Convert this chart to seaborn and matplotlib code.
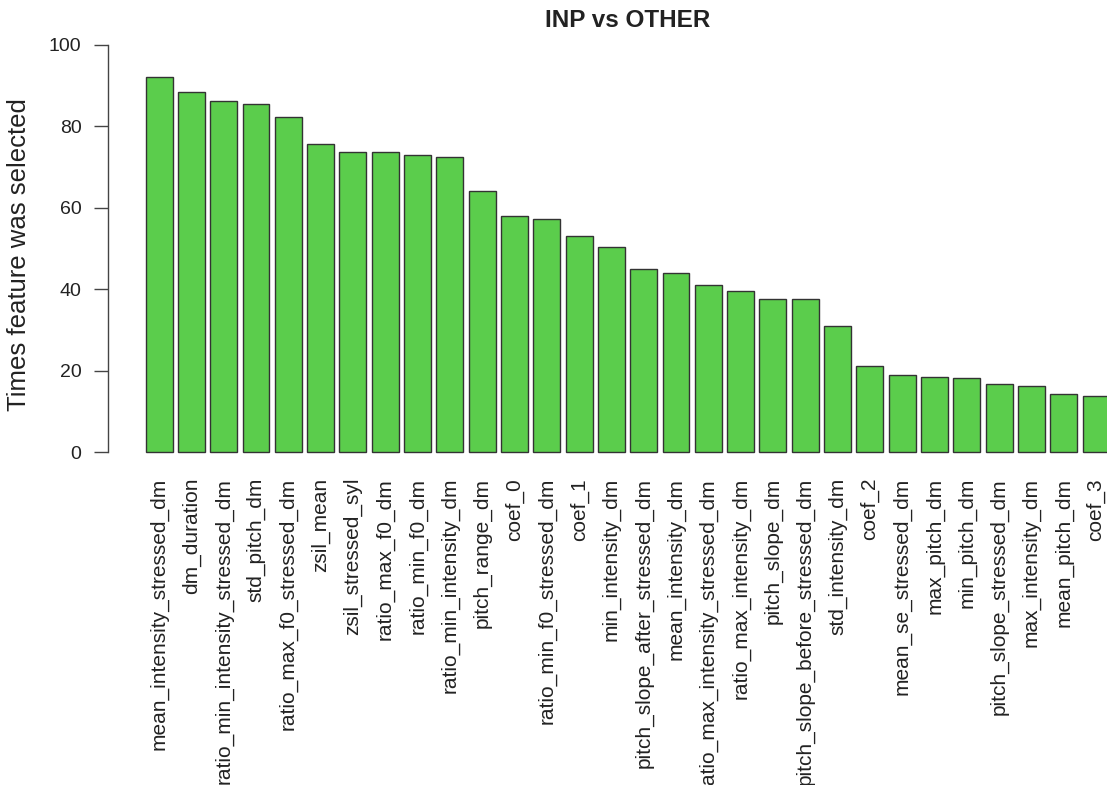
import matplotlib
matplotlib.use("Agg")
import matplotlib.pyplot as plt
import seaborn as sns
import pandas as pd

# Feature-selection counts, in descending order
features = [
    "mean_intensity_stressed_dm", "dm_duration", "ratio_min_intensity_stressed_dm",
    "std_pitch_dm", "ratio_max_f0_stressed_dm", "zsil_mean", "zsil_stressed_syl",
    "ratio_max_f0_dm", "ratio_min_f0_dm", "ratio_min_intensity_dm", "pitch_range_dm",
    "coef_0", "ratio_min_f0_stressed_dm", "coef_1", "min_intensity_dm",
    "pitch_slope_after_stressed_dm", "mean_intensity_dm",
    "ratio_max_intensity_stressed_dm", "ratio_max_intensity_dm", "pitch_slope_dm",
    "pitch_slope_before_stressed_dm", "std_intensity_dm", "coef_2",
    "mean_se_stressed_dm", "max_pitch_dm", "min_pitch_dm", "pitch_slope_stressed_dm",
    "max_intensity_dm", "mean_pitch_dm", "coef_3",
]
times_selected = [
    92.1, 88.4, 86.1, 85.4, 82.3, 75.7, 73.7, 73.6, 72.9, 72.5, 64.2,
    58.0, 57.2, 53.0, 50.4, 44.9, 44.0, 41.0, 39.5, 37.7, 37.7, 31.0,
    21.2, 19.0, 18.5, 18.1, 16.8, 16.2, 14.3, 13.8,
]
y_ticks = [0, 20, 40, 60, 80, 100]

df = pd.DataFrame({"feature": features, "times": times_selected})

sns.set_style("white")
plt.rcParams["font.family"] = ["Liberation Sans", "DejaVu Sans"]

W, H = 1107, 785
fig = plt.figure(figsize=(W / 100, H / 100), dpi=100)
# plot region: left edge at the y axis, right edge runs past the canvas
left_px, right_px, top_px, bottom_px = 108, 1148, 28.4, 468.5
ax = fig.add_axes([left_px / W, 1 - bottom_px / H,
                   (right_px - left_px) / W, (bottom_px - top_px) / H])

text_col = "#222222"
sns.barplot(data=df, x="feature", y="times", order=features, ax=ax,
            color="#5BCD4C", saturation=1, width=1 / 1.2,
            edgecolor="#333333", linewidth=1.0)

ax.set_xlim(-1.58, 30.61)
ax.set_ylim(-4, 104)
ax.set_yticks(y_ticks)
ax.set_yticklabels([str(t) for t in y_ticks], fontsize=14, color=text_col)

for side in ["top", "right", "bottom"]:
    ax.spines[side].set_visible(False)
ax.spines["left"].set_bounds(0, 100)
ax.spines["left"].set_color("#444444")
ax.spines["left"].set_linewidth(1.0)

ax.tick_params(axis="y", direction="out", length=10, width=1.0,
               color="#444444", pad=9, left=True)
ax.tick_params(axis="x", length=0, pad=6.8)
plt.setp(ax.get_xticklabels(), rotation=90, ha="center", va="top",
         fontsize=15, color=text_col)

ax.set_xlabel("")
ax.set_ylabel("Times feature was selected", fontsize=18.5, color=text_col,
              va="center")
ax.yaxis.set_label_coords((19 - left_px) / (right_px - left_px),
                          (bottom_px - 255) / (bottom_px - top_px))

ax.set_title("INP vs OTHER", fontsize=17.5, fontweight="bold",
             color=text_col, pad=1)

fig.savefig("out.png", dpi=100)
